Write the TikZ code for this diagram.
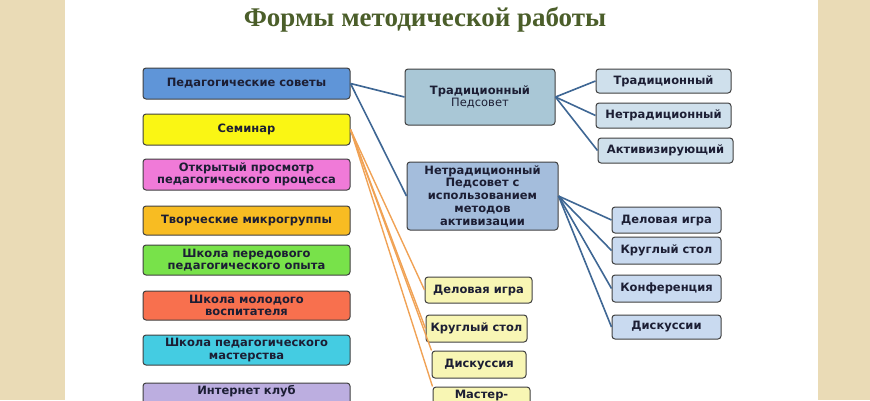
\documentclass[tikz,border=0pt]{standalone}
\usepackage{fontspec}
\setmainfont{DejaVu Sans}
\newfontfamily\titlefont{Liberation Serif}
\usepackage{tikz}

\definecolor{paper}{HTML}{EADBB6}
\definecolor{titlegreen}{HTML}{4B5E2A}
\definecolor{linkblue}{HTML}{3F6794}
\definecolor{linkorange}{HTML}{F0A255}
\definecolor{cblue}{HTML}{5F95D8}
\definecolor{cyellow}{HTML}{FAF614}
\definecolor{cpink}{HTML}{F07AD8}
\definecolor{corange}{HTML}{F8BC22}
\definecolor{cgreen}{HTML}{78E24A}
\definecolor{ccoral}{HTML}{F8704E}
\definecolor{ccyan}{HTML}{44CCE2}
\definecolor{clilac}{HTML}{BCAEE0}
\definecolor{cgrey}{HTML}{A9C7D6}
\definecolor{cgreyblue}{HTML}{A4BDDC}
\definecolor{cpale}{HTML}{CFE0EC}
\definecolor{cpaleblue}{HTML}{C9DAF0}
\definecolor{cpaleyellow}{HTML}{F8F6B4}
\definecolor{boxtext}{HTML}{1C1E34}

\begin{document}
\begin{tikzpicture}[x=1pt, y=-1pt,
    box/.style={draw=black!75, line width=1pt, rounded corners=3pt, align=center,
      inner sep=1pt, text=boxtext, font=\bfseries\fontsize{11.5}{12.5}\selectfont},
    bluelink/.style={draw=linkblue, line width=1.6pt},
    orangelink/.style={draw=linkorange, line width=1.4pt}]
  \useasboundingbox (0,0) rectangle (870,400);
  \clip (0,0) rectangle (870,400);
  % paper edges
  \fill[paper] (0,0) rectangle (65,400);
  \fill[paper] (818,0) rectangle (870,400);
  \node[font=\titlefont\bfseries\fontsize{27}{30}\selectfont, text=titlegreen] (title) at (425,20) {Формы методической работы};

  % left column
  \node[box, fill=cblue, minimum width=207, minimum height=31] (ped) at (246.5,83.5) {Педагогические советы};
  \node[box, fill=cyellow, minimum width=207, minimum height=31] (sem) at (246.5,129.5) {Семинар};
  \node[box, fill=cpink, minimum width=207, minimum height=31] (otkr) at (246.5,174.5) {Открытый просмотр\\педагогического процесса};
  \node[box, fill=corange, minimum width=207, minimum height=29] (tvor) at (246.5,220.5) {Творческие микрогруппы};
  \node[box, fill=cgreen, minimum width=207, minimum height=30] (spo) at (246.5,260) {Школа передового\\педагогического опыта};
  \node[box, fill=ccoral, minimum width=207, minimum height=29] (smv) at (246.5,305.5) {Школа молодого\\воспитателя};
  \node[box, fill=ccyan, minimum width=207, minimum height=30] (spm) at (246.5,350) {Школа педагогического\\мастерства};
  \node[box, fill=clilac, minimum width=207, minimum height=31] (inet) at (246.5,398.5) {Интернет клуб\\ \strut};

  % pedsovet
  \node[box, fill=cgrey, minimum width=150, minimum height=56] (trad) at (480,97) {Традиционный\\\mdseries Педсовет};
  \node[box, fill=cgreyblue, minimum width=151, minimum height=68, font=\bfseries\fontsize{11.5}{12.8}\selectfont] (netr) at (482.5,196) {Нетрадиционный\\Педсовет с\\использованием\\методов\\активизации};

  \node[box, fill=cpale, minimum width=135, minimum height=24] (tr1) at (663.5,81) {Традиционный};
  \node[box, fill=cpale, minimum width=135, minimum height=25] (tr2) at (663.5,115.5) {Нетрадиционный};
  \node[box, fill=cpale, minimum width=135, minimum height=25] (tr3) at (665.5,150.5) {Активизирующий};

  \node[box, fill=cpaleblue, minimum width=109, minimum height=26] (nt1) at (666.5,220) {Деловая игра};
  \node[box, fill=cpaleblue, minimum width=109, minimum height=27] (nt2) at (666.5,250.5) {Круглый стол};
  \node[box, fill=cpaleblue, minimum width=109, minimum height=27] (nt3) at (666.5,288.5) {Конференция};
  \node[box, fill=cpaleblue, minimum width=109, minimum height=24] (nt4) at (666.5,327) {Дискуссии};

  % seminar forms
  \node[box, fill=cpaleyellow, minimum width=107, minimum height=26] (sm1) at (478.5,290) {Деловая игра};
  \node[box, fill=cpaleyellow, minimum width=101, minimum height=27] (sm2) at (476.5,328.5) {Круглый стол};
  \node[box, fill=cpaleyellow, minimum width=94, minimum height=27] (sm3) at (479,364.5) {Дискуссия};
  \node[box, fill=cpaleyellow, minimum width=97, minimum height=31] (sm4) at (481.5,402.5) {Мастер-\\ \strut};

  % links
  \draw[bluelink] (ped.east) -- (trad.west);
  \draw[bluelink] (ped.east) -- (netr.west);
  \draw[bluelink] (trad.east) -- (tr1.west);
  \draw[bluelink] (trad.east) -- (tr2.west);
  \draw[bluelink] (trad.east) -- (tr3.west);
  \draw[bluelink] (netr.east) -- (nt1.west);
  \draw[bluelink] (netr.east) -- (nt2.west);
  \draw[bluelink] (netr.east) -- (nt3.west);
  \draw[bluelink] (netr.east) -- (nt4.west);
  \draw[orangelink] (sem.east) -- (sm1.west);
  \draw[orangelink] (sem.east) -- (sm2.west);
  \draw[orangelink] (sem.east) -- (sm3.north west);
  \draw[orangelink] (sem.east) -- (sm4.north west);
\end{tikzpicture}
\end{document}
